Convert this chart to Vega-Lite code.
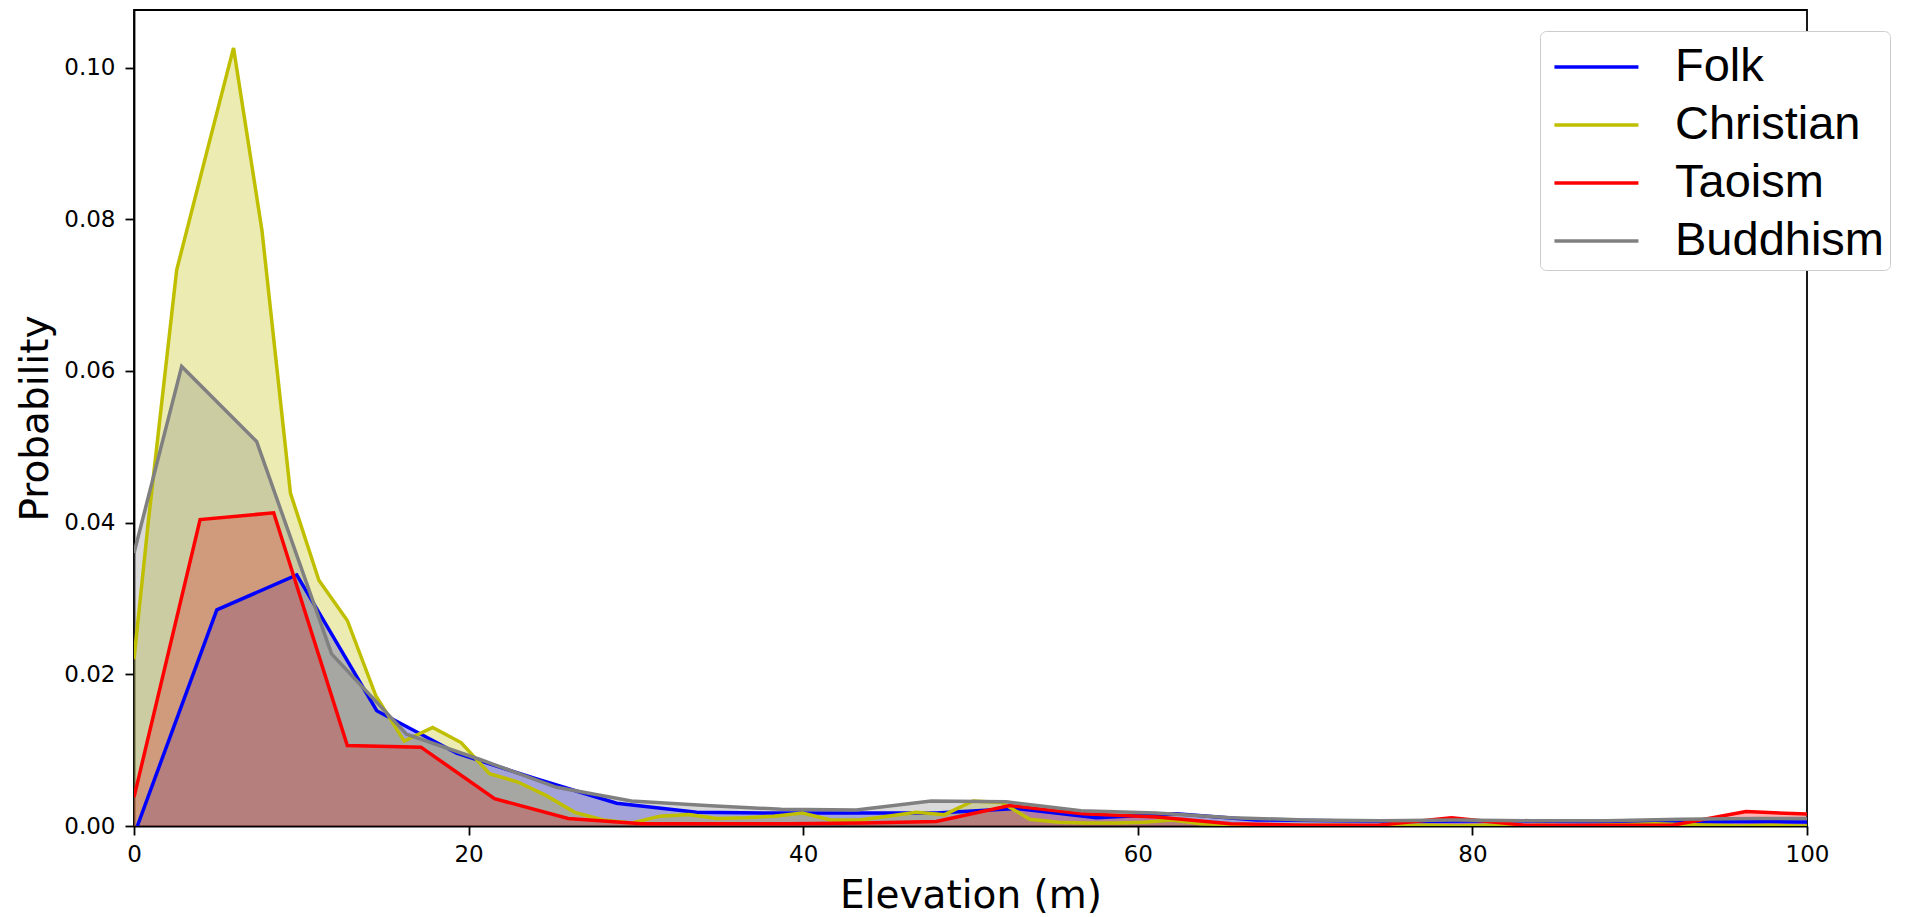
{
  "$schema": "https://vega.github.io/schema/vega-lite/v6.json",
  "width": 1673,
  "height": 816,
  "autosize": {"type": "none"},
  "padding": {"left": 134, "top": 10, "right": 101, "bottom": 91},
  "background": "white",
  "config": {
    "view": {"stroke": "black", "strokeWidth": 1.8},
    "axis": {
      "domainColor": "black", "domainWidth": 1.8,
      "tickColor": "black", "tickWidth": 1.8, "tickSize": 9,
      "labelFont": "DejaVu Sans", "labelFontSize": 23, "labelColor": "black",
      "titleFont": "DejaVu Sans", "titleFontSize": 39, "titleFontWeight": "normal", "titleColor": "black",
      "labelFlush": false, "labelOverlap": false, "labelBound": false, "grid": false
    },
    "axisX": {"labelPadding": 8, "titlePadding": 10},
    "axisY": {"labelPadding": 10, "titlePadding": 8},
    "legend": {
      "orient": "none", "legendX": 1406, "legendY": 21,
      "padding": 6, "strokeColor": "#cccccc", "fillColor": "white", "cornerRadius": 6,
      "rowPadding": 5, "labelFont": "Liberation Sans", "labelFontSize": 47, "labelColor": "black",
      "labelOffset": 69, "labelLimit": 400,
      "symbolSize": 3136, "symbolType": "M-0.77,0H2.23", "symbolStrokeWidth": 3.5, "symbolOpacity": 1
    }
  },
  "data": {"values": [
    {"religion": "Folk", "elevation": 0.2, "probability": 0.0},
    {"religion": "Folk", "elevation": 4.95, "probability": 0.0285},
    {"religion": "Folk", "elevation": 9.73, "probability": 0.0331},
    {"religion": "Folk", "elevation": 14.51, "probability": 0.0152},
    {"religion": "Folk", "elevation": 19.29, "probability": 0.0096},
    {"religion": "Folk", "elevation": 24.07, "probability": 0.0062},
    {"religion": "Folk", "elevation": 28.85, "probability": 0.0030},
    {"religion": "Folk", "elevation": 33.63, "probability": 0.0018},
    {"religion": "Folk", "elevation": 38.41, "probability": 0.0017},
    {"religion": "Folk", "elevation": 43.19, "probability": 0.0017},
    {"religion": "Folk", "elevation": 47.97, "probability": 0.0017},
    {"religion": "Folk", "elevation": 52.75, "probability": 0.0023},
    {"religion": "Folk", "elevation": 57.53, "probability": 0.0011},
    {"religion": "Folk", "elevation": 62.31, "probability": 0.0016},
    {"religion": "Folk", "elevation": 67.09, "probability": 0.0008},
    {"religion": "Folk", "elevation": 71.87, "probability": 0.0007},
    {"religion": "Folk", "elevation": 76.65, "probability": 0.0006},
    {"religion": "Folk", "elevation": 81.43, "probability": 0.0007},
    {"religion": "Folk", "elevation": 86.21, "probability": 0.0006},
    {"religion": "Folk", "elevation": 90.99, "probability": 0.0005},
    {"religion": "Folk", "elevation": 95.77, "probability": 0.0006},
    {"religion": "Folk", "elevation": 100.55, "probability": 0.0005},

    {"religion": "Christian", "elevation": 0, "probability": 0.022},
    {"religion": "Christian", "elevation": 0.85, "probability": 0.040},
    {"religion": "Christian", "elevation": 2.55, "probability": 0.0733},
    {"religion": "Christian", "elevation": 4.25, "probability": 0.088},
    {"religion": "Christian", "elevation": 5.95, "probability": 0.1026},
    {"religion": "Christian", "elevation": 7.65, "probability": 0.0785},
    {"religion": "Christian", "elevation": 9.35, "probability": 0.0439},
    {"religion": "Christian", "elevation": 11.05, "probability": 0.0324},
    {"religion": "Christian", "elevation": 12.75, "probability": 0.0271},
    {"religion": "Christian", "elevation": 14.45, "probability": 0.0172},
    {"religion": "Christian", "elevation": 16.15, "probability": 0.0112},
    {"religion": "Christian", "elevation": 17.85, "probability": 0.0130},
    {"religion": "Christian", "elevation": 19.55, "probability": 0.0110},
    {"religion": "Christian", "elevation": 21.25, "probability": 0.0069},
    {"religion": "Christian", "elevation": 22.95, "probability": 0.0058},
    {"religion": "Christian", "elevation": 24.65, "probability": 0.0040},
    {"religion": "Christian", "elevation": 26.35, "probability": 0.0018},
    {"religion": "Christian", "elevation": 28.05, "probability": 0.0008},
    {"religion": "Christian", "elevation": 29.75, "probability": 0.0004},
    {"religion": "Christian", "elevation": 31.45, "probability": 0.0013},
    {"religion": "Christian", "elevation": 33.15, "probability": 0.0015},
    {"religion": "Christian", "elevation": 34.85, "probability": 0.0010},
    {"religion": "Christian", "elevation": 36.55, "probability": 0.0011},
    {"religion": "Christian", "elevation": 38.25, "probability": 0.0013},
    {"religion": "Christian", "elevation": 39.95, "probability": 0.0017},
    {"religion": "Christian", "elevation": 41.65, "probability": 0.0008},
    {"religion": "Christian", "elevation": 43.35, "probability": 0.0008},
    {"religion": "Christian", "elevation": 45.05, "probability": 0.0013},
    {"religion": "Christian", "elevation": 46.75, "probability": 0.0018},
    {"religion": "Christian", "elevation": 48.45, "probability": 0.0015},
    {"religion": "Christian", "elevation": 50.15, "probability": 0.0033},
    {"religion": "Christian", "elevation": 51.85, "probability": 0.0031},
    {"religion": "Christian", "elevation": 53.55, "probability": 0.0009},
    {"religion": "Christian", "elevation": 55.25, "probability": 0.0005},
    {"religion": "Christian", "elevation": 56.95, "probability": 0.0004},
    {"religion": "Christian", "elevation": 58.65, "probability": 0.0004},
    {"religion": "Christian", "elevation": 60.35, "probability": 0.0005},
    {"religion": "Christian", "elevation": 62.05, "probability": 0.0008},
    {"religion": "Christian", "elevation": 63.75, "probability": 0.0003},
    {"religion": "Christian", "elevation": 65.45, "probability": 0.0002},
    {"religion": "Christian", "elevation": 67.15, "probability": 0.0001},
    {"religion": "Christian", "elevation": 68.85, "probability": 0.0001},
    {"religion": "Christian", "elevation": 70.55, "probability": 0.0001},
    {"religion": "Christian", "elevation": 72.25, "probability": 0.0001},
    {"religion": "Christian", "elevation": 73.95, "probability": 0.0},
    {"religion": "Christian", "elevation": 75.65, "probability": 0.0001},
    {"religion": "Christian", "elevation": 77.35, "probability": 0.0001},
    {"religion": "Christian", "elevation": 79.05, "probability": 0.0},
    {"religion": "Christian", "elevation": 80.75, "probability": 0.0001},
    {"religion": "Christian", "elevation": 82.45, "probability": 0.0},
    {"religion": "Christian", "elevation": 84.15, "probability": 0.0001},
    {"religion": "Christian", "elevation": 85.85, "probability": 0.0},
    {"religion": "Christian", "elevation": 87.55, "probability": 0.0001},
    {"religion": "Christian", "elevation": 89.25, "probability": 0.0002},
    {"religion": "Christian", "elevation": 90.95, "probability": 0.0003},
    {"religion": "Christian", "elevation": 92.65, "probability": 0.0002},
    {"religion": "Christian", "elevation": 94.35, "probability": 0.0001},
    {"religion": "Christian", "elevation": 96.05, "probability": 0.0},
    {"religion": "Christian", "elevation": 97.75, "probability": 0.0001},
    {"religion": "Christian", "elevation": 99.45, "probability": 0.0},
    {"religion": "Christian", "elevation": 101.15, "probability": 0.0},

    {"religion": "Taoism", "elevation": 0, "probability": 0.0038},
    {"religion": "Taoism", "elevation": 3.95, "probability": 0.0404},
    {"religion": "Taoism", "elevation": 8.35, "probability": 0.0413},
    {"religion": "Taoism", "elevation": 12.75, "probability": 0.0106},
    {"religion": "Taoism", "elevation": 17.15, "probability": 0.0104},
    {"religion": "Taoism", "elevation": 21.55, "probability": 0.0036},
    {"religion": "Taoism", "elevation": 25.95, "probability": 0.0010},
    {"religion": "Taoism", "elevation": 30.35, "probability": 0.0003},
    {"religion": "Taoism", "elevation": 34.75, "probability": 0.0003},
    {"religion": "Taoism", "elevation": 39.15, "probability": 0.0003},
    {"religion": "Taoism", "elevation": 43.55, "probability": 0.0004},
    {"religion": "Taoism", "elevation": 47.95, "probability": 0.0006},
    {"religion": "Taoism", "elevation": 52.35, "probability": 0.0027},
    {"religion": "Taoism", "elevation": 56.75, "probability": 0.0016},
    {"religion": "Taoism", "elevation": 61.15, "probability": 0.0012},
    {"religion": "Taoism", "elevation": 65.55, "probability": 0.0003},
    {"religion": "Taoism", "elevation": 69.95, "probability": 0.0001},
    {"religion": "Taoism", "elevation": 74.35, "probability": 0.0001},
    {"religion": "Taoism", "elevation": 78.75, "probability": 0.0011},
    {"religion": "Taoism", "elevation": 83.15, "probability": 0.0001},
    {"religion": "Taoism", "elevation": 87.55, "probability": 0.0001},
    {"religion": "Taoism", "elevation": 91.95, "probability": 0.0001},
    {"religion": "Taoism", "elevation": 96.35, "probability": 0.0019},
    {"religion": "Taoism", "elevation": 100.75, "probability": 0.0015},

    {"religion": "Buddhism", "elevation": 0, "probability": 0.036},
    {"religion": "Buddhism", "elevation": 2.85, "probability": 0.0606},
    {"religion": "Buddhism", "elevation": 7.33, "probability": 0.0507},
    {"religion": "Buddhism", "elevation": 11.81, "probability": 0.0227},
    {"religion": "Buddhism", "elevation": 16.29, "probability": 0.0121},
    {"religion": "Buddhism", "elevation": 20.77, "probability": 0.0087},
    {"religion": "Buddhism", "elevation": 25.25, "probability": 0.0051},
    {"religion": "Buddhism", "elevation": 29.73, "probability": 0.0033},
    {"religion": "Buddhism", "elevation": 34.21, "probability": 0.0027},
    {"religion": "Buddhism", "elevation": 38.69, "probability": 0.0022},
    {"religion": "Buddhism", "elevation": 43.17, "probability": 0.0021},
    {"religion": "Buddhism", "elevation": 47.65, "probability": 0.0033},
    {"religion": "Buddhism", "elevation": 52.13, "probability": 0.0032},
    {"religion": "Buddhism", "elevation": 56.61, "probability": 0.0020},
    {"religion": "Buddhism", "elevation": 61.09, "probability": 0.0017},
    {"religion": "Buddhism", "elevation": 65.57, "probability": 0.0011},
    {"religion": "Buddhism", "elevation": 70.05, "probability": 0.0008},
    {"religion": "Buddhism", "elevation": 74.53, "probability": 0.0007},
    {"religion": "Buddhism", "elevation": 79.01, "probability": 0.0008},
    {"religion": "Buddhism", "elevation": 83.49, "probability": 0.0007},
    {"religion": "Buddhism", "elevation": 87.97, "probability": 0.0007},
    {"religion": "Buddhism", "elevation": 92.45, "probability": 0.0009},
    {"religion": "Buddhism", "elevation": 96.93, "probability": 0.0010},
    {"religion": "Buddhism", "elevation": 101.41, "probability": 0.0010}
  ]},
  "encoding": {
    "x": {"field": "elevation", "type": "quantitative",
      "scale": {"domain": [0, 100], "nice": false, "zero": false},
      "axis": {"values": [0, 20, 40, 60, 80, 100], "title": "Elevation (m)"}},
    "y": {"field": "probability", "type": "quantitative", "stack": null,
      "scale": {"domain": [0, 0.1076], "nice": false},
      "axis": {"values": [0, 0.02, 0.04, 0.06, 0.08, 0.1], "format": ".2f", "title": "Probability"}},
    "color": {"field": "religion", "type": "nominal", "sort": null,
      "scale": {"domain": ["Folk", "Christian", "Taoism", "Buddhism"], "range": ["#0000ff", "#bfbf00", "#ff0000", "#808080"]},
      "legend": {"title": null}}
  },
  "layer": [
    {"mark": {"type": "area", "opacity": 0.3, "clip": true}},
    {"mark": {"type": "line", "strokeWidth": 3.5, "clip": true}}
  ]
}
